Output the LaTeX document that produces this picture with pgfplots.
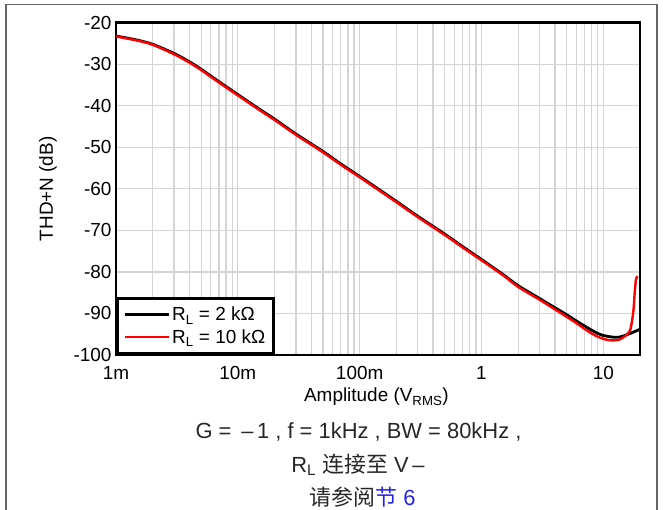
\documentclass[border=0pt]{standalone}
\usepackage{pgfplots}
\pgfplotsset{compat=1.18}
\usepackage{fontspec}
\setmainfont{Liberation Sans}
\newfontfamily\cjk{Noto Sans CJK SC}
\definecolor{gridgray}{RGB}{212,212,212}
\definecolor{framegray}{RGB}{100,100,100}
\definecolor{linkblue}{RGB}{35,35,235}
\begin{document}
\begin{tikzpicture}
\path[use as bounding box] (-116bp,-155bp) rectangle (547bp,355bp);
\begin{axis}[
  at={(0,0)}, anchor=south west,
  scale only axis, width=524bp, height=332.3bp,
  xmode=log, xmin=0.001, xmax=20,
  ymin=-100, ymax=-20,
  xtick={0.001,0.01,0.1,1,10},
  xticklabels={1m,10m,100m,1,10},
  minor xtick={0.002,0.003,0.004,0.005,0.006,0.007,0.008,0.009,
               0.02,0.03,0.04,0.05,0.06,0.07,0.08,0.09,
               0.2,0.3,0.4,0.5,0.6,0.7,0.8,0.9,
               2,3,4,5,6,7,8,9},
  ytick={-100,-90,-80,-70,-60,-50,-40,-30,-20},
  yticklabels={-100,-90,-80,-70,-60,-50,-40,-30,-20},
  grid=both,
  major grid style={gridgray, line width=1.3bp},
  minor grid style={gridgray, line width=1.3bp},
  major tick length=0pt, minor tick length=0pt,
  axis line style={line width=2.8bp},
  ticklabel style={font=\fontsize{19}{22}\selectfont},
  yticklabel style={xshift=-1bp},
  xticklabel style={yshift=-8bp},
  xlabel={Amplitude (V\textsubscript{RMS})},
  ylabel={THD+N (dB)},
  label style={font=\fontsize{19}{22}\selectfont},
  xlabel style={at={(axis description cs:0.497,-0.126)}, anchor=center},
  ylabel style={at={(axis description cs:-0.13,0.5)}, anchor=center},
  legend style={at={(0,0)}, anchor=south west, draw=black, line width=2.8bp,
    font=\fontsize{19}{22}\selectfont, inner xsep=6bp, inner ysep=7bp,
    row sep=3bp, legend cell align=left},
  legend image code/.code={\path (0bp,0bp) -- (44bp,0bp);\draw[#1] (0bp,0bp) -- (36bp,0bp);},
]
\addplot[black, line width=2.8bp, smooth] coordinates {
(0.001,-23.2) (0.0015,-24.2) (0.002,-25.2) (0.003,-27.4) (0.004,-29.4)
(0.005,-31.2) (0.007,-34.2) (0.01,-37.3) (0.015,-40.8) (0.02,-43.2)
(0.03,-46.8) (0.05,-51.0) (0.07,-54.0) (0.1,-57.0) (0.15,-60.5)
(0.2,-63.0) (0.3,-66.6) (0.5,-70.9) (0.7,-73.9) (1,-77.0) (1.5,-80.6)
(2,-83.3) (3,-86.4) (4,-88.6) (5,-90.3) (6,-91.8) (7,-93.0) (8,-94.0)
(9,-94.8) (10,-95.3) (12,-95.7) (13.5,-95.7) (15,-95.3) (17,-94.7) (20,-93.8)
};
\addlegendentry{R\textsubscript{L} = 2 kΩ}
\addplot[red, line width=2.4bp, smooth] coordinates {
(0.001,-23.3) (0.0015,-24.3) (0.002,-25.3) (0.003,-27.6) (0.004,-29.6)
(0.005,-31.4) (0.007,-34.4) (0.01,-37.5) (0.015,-41.0) (0.02,-43.4)
(0.03,-47.0) (0.05,-51.2) (0.07,-54.2) (0.1,-57.2) (0.15,-60.7)
(0.2,-63.2) (0.3,-66.8) (0.5,-71.1) (0.7,-74.1) (1,-77.2) (1.5,-80.8)
(2,-83.6) (3,-86.7) (4,-89.0) (5,-90.8) (6,-92.3) (7,-93.7) (8,-94.8)
(9,-95.6) (10,-96.1) (11,-96.4) (12,-96.5) (13.5,-96.3) (15,-95.5)
(16.5,-94.2) (17.2,-91.8) (17.7,-89.0) (18.1,-85.0) (18.5,-82.0) (19,-81.0)
};
\addlegendentry{R\textsubscript{L} = 10 kΩ}
\end{axis}
\draw[framegray, line width=1.5bp] (-110bp,-160bp) -- (-110bp,350.3bp) -- (541bp,350.3bp) -- (541bp,-160bp);
\node[font=\fontsize{22}{26}\selectfont, text=black!85] at (242.5bp,-77bp) {G = \,–\,1 , f = 1kHz , BW = 80kHz ,};
\node[font=\fontsize{22}{26}\selectfont, text=black!85] at (242bp,-110bp) {R\textsubscript{L} {\cjk 连接至} V\,–};
\node[font=\fontsize{22}{26}\selectfont, text=black!85] at (246.5bp,-142bp) {{\cjk 请参阅}\textcolor{linkblue}{{\cjk 节} 6}};
\end{tikzpicture}
\end{document}
